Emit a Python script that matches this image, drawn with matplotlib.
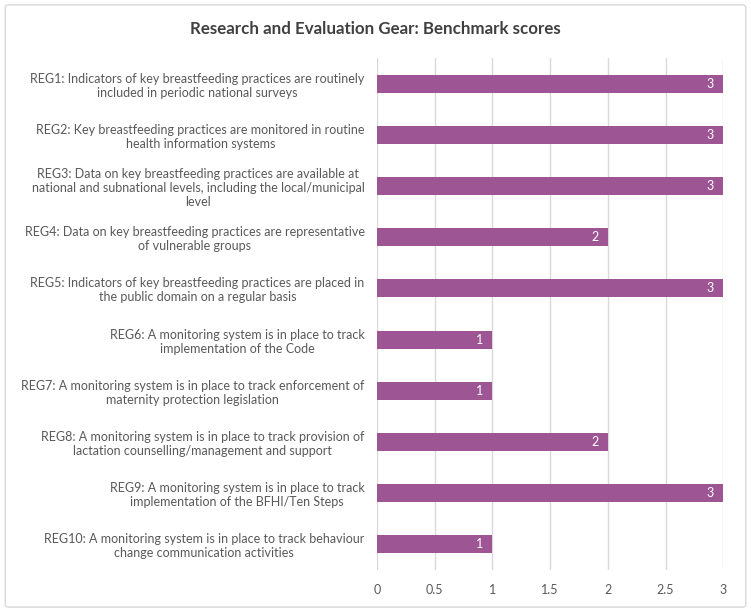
import matplotlib
matplotlib.use('Agg')
from matplotlib import pyplot as plt
from matplotlib.patches import FancyBboxPatch

plt.rcParams['font.family'] = ['Lato', 'DejaVu Sans']

labels = ['REG1: Indicators of key breastfeeding practices are routinely\nincluded in periodic national surveys',
          'REG2: Key breastfeeding practices are monitored in routine\nhealth information systems',
          'REG3: Data on key breastfeeding practices are available at\nnational and subnational levels, including the local/municipal\nlevel',
          'REG4: Data on key breastfeeding practices are representative\nof vulnerable groups',
          'REG5: Indicators of key breastfeeding practices are placed in\nthe public domain on a regular basis',
          'REG6: A monitoring system is in place to track\nimplementation of the Code',
          'REG7: A monitoring system is in place to track enforcement of\nmaternity protection legislation',
          'REG8: A monitoring system is in place to track provision of\nlactation counselling/management and support',
          'REG9: A monitoring system is in place to track\nimplementation of the BFHI/Ten Steps',
          'REG10: A monitoring system is in place to track behaviour\nchange communication activities']
scores = [3, 3, 3, 2, 3, 1, 1, 2, 3, 1]
xticks = [0, 0.5, 1, 1.5, 2, 2.5, 3]

bar_color = '#9E5594'
text_color = '#595959'

fig = plt.figure(figsize=(7.51, 6.12), dpi=100)
# light border round the chart area
fig.patches.append(FancyBboxPatch((0.007, 0.008), 0.986, 0.984, boxstyle='round,pad=0,rounding_size=0.004',
                                  transform=fig.transFigure, fill=False, edgecolor='#D9D9D9', linewidth=1))

ax = fig.add_axes([0.502, 0.0686, 0.461, 0.8366])
ypos = list(range(len(scores)))
ax.barh(ypos, scores, height=0.35, color=bar_color, zorder=3)
ax.set_ylim(len(scores) - 0.5, -0.5)
ax.set_xlim(0, 3)
ax.set_xticks(xticks)
ax.set_xticklabels(['0', '0.5', '1', '1.5', '2', '2.5', '3'])
ax.set_yticks(ypos)
ax.set_yticklabels(labels, multialignment='center', linespacing=1.2)
ax.tick_params(axis='x', length=0, pad=10, labelsize=9, labelcolor=text_color)
ax.tick_params(axis='y', length=0, pad=9, labelsize=9, labelcolor=text_color)
ax.grid(axis='x', color='#D9D9D9', linewidth=1, zorder=0)
for s in ax.spines.values():
    s.set_visible(False)

for k in range(len(scores)):
    ax.text(scores[k] - 0.08, ypos[k], str(scores[k]), ha='right', va='center', color='white', fontsize=9, zorder=4)

fig.text(0.5, 0.953, 'Research and Evaluation Gear: Benchmark scores', ha='center', va='center',
         fontsize=12.2, fontweight='bold', color='#404040')

plt.savefig('out.png', dpi=100)
plt.close()
